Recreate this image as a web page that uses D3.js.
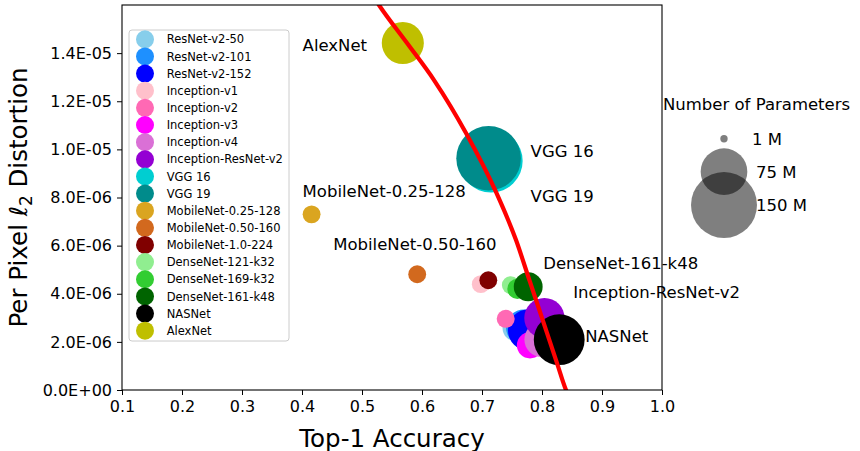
<!DOCTYPE html>
<html>
<head>
<meta charset="utf-8">
<script src="https://cdn.jsdelivr.net/npm/d3@7"></script>
<style>
  body { margin: 0; background: #fff; }
  svg { font-family: "DejaVu Sans", sans-serif; }
</style>
</head>
<body>
<svg id="chart" width="860" height="451"></svg>
<script>
// models, in the order they are drawn and listed in the legend
const models = ["ResNet-v2-50", "ResNet-v2-101", "ResNet-v2-152", "Inception-v1", "Inception-v2",
  "Inception-v3", "Inception-v4", "Inception-ResNet-v2", "VGG 16", "VGG 19",
  "MobileNet-0.25-128", "MobileNet-0.50-160", "MobileNet-1.0-224", "DenseNet-121-k32",
  "DenseNet-169-k32", "DenseNet-161-k48", "NASNet", "AlexNet"];
const accuracy = [0.757, 0.770, 0.778, 0.698, 0.7395, 0.780, 0.800, 0.804, 0.715, 0.711,
  0.416, 0.592, 0.7105, 0.748, 0.759, 0.777, 0.8287, 0.568];
const distortion = [2.58e-6, 2.60e-6, 2.49e-6, 4.40e-6, 2.96e-6, 1.86e-6, 2.10e-6, 2.99e-6, 9.52e-6, 9.63e-6,
  7.30e-6, 4.81e-6, 4.56e-6, 4.36e-6, 4.20e-6, 4.29e-6, 2.09e-6, 1.442e-5];
const params = [25.6, 44.5, 60.2, 6.6, 11.2, 23.8, 42.7, 55.8, 138, 143.7,
  0.47, 1.32, 4.2, 8.0, 14.1, 28.7, 88.9, 61];
const colors = ["#87CEEB", "#1E90FF", "#0000FF", "#FFC0CB", "#FF69B4", "#FF00FF", "#DA70D6", "#9400D3",
  "#00CED1", "#008B8B", "#DAA520", "#D2691E", "#800000", "#90EE90", "#32CD32", "#006400", "#000000", "#BFBF00"];

// text labels placed in the plot
const annotText = ["AlexNet", "VGG 16", "VGG 19", "MobileNet-0.25-128", "MobileNet-0.50-160",
  "DenseNet-161-k48", "Inception-ResNet-v2", "NASNet"];
const annotAcc = [0.401, 0.781, 0.781, 0.401, 0.452, 0.802, 0.852, 0.872];
const annotDist = [1.41e-5, 9.69e-6, 7.80e-6, 8.03e-6, 5.82e-6, 5.03e-6, 3.81e-6, 2.01e-6];

// red trade-off curve
const curveAcc = [0.523, 0.5283, 0.575, 0.620, 0.6733, 0.7233, 0.7567, 0.780, 0.7967, 0.825, 0.840, 0.842];
const curveDist = [1.62e-5, 1.60e-5, 1.442e-5, 1.288e-5, 1.068e-5, 8.23e-6, 6.23e-6, 4.49e-6, 3.24e-6, 1.12e-6, 0, -1.2e-7];

// ticks and size legend
const xTicks = [0.1, 0.2, 0.3, 0.4, 0.5, 0.6, 0.7, 0.8, 0.9, 1.0];
const yTicks = [0, 2e-6, 4e-6, 6e-6, 8e-6, 1e-5, 1.2e-5, 1.4e-5];
const sizeValues = [1, 75, 150];
const sizeLabels = ["1 M", "75 M", "150 M"];

const svg = d3.select('#chart');
const margin = { top: 5, right: 198, bottom: 61, left: 122 };
const width = 860, height = 451;
const innerWidth = width - margin.left - margin.right;
const innerHeight = height - margin.top - margin.bottom;

const xScale = d3.scaleLinear().domain([0.1, 1.0]).range([0, innerWidth]);
const yScale = d3.scaleLinear().domain([0, 1.6e-5]).range([innerHeight, 0]);
// marker radius ~ sqrt(params); small nets get a minimum size
const rScale = d3.scaleSqrt().domain([0, 150]).range([0, 33]);
const markerR = p => rScale(Math.max(p, 11));

function sci(v) {
    if (v === 0) return "0.0E+00";
    const e = Math.floor(Math.log10(v) + 1e-9);
    const m = v / Math.pow(10, e);
    return m.toFixed(1) + "E" + (e < 0 ? "-" : "+") + String(Math.abs(e)).padStart(2, "0");
}

svg.append('defs').append('clipPath').attr('id', 'plotclip')
    .append('rect').attr('width', innerWidth).attr('height', innerHeight);

const g = svg.append('g').attr('transform', `translate(${margin.left},${margin.top})`);

// axes
const xAxis = g.append('g')
    .attr('transform', `translate(0,${innerHeight})`)
    .call(d3.axisBottom(xScale).tickValues(xTicks).tickFormat(d3.format('.1f')).tickSize(5).tickPadding(6));
const yAxis = g.append('g')
    .call(d3.axisLeft(yScale).tickValues(yTicks).tickFormat(sci).tickSize(5).tickPadding(5));
[xAxis, yAxis].forEach(a => {
    a.select('.domain').remove();
    a.selectAll('text').style('font-size', '16px').style('fill', '#000').style('font-family', '"DejaVu Sans"');
    a.selectAll('line').style('stroke', '#000');
});

// points
const pts = models.map((m, i) => ({ name: m, acc: accuracy[i], dist: distortion[i], p: params[i], color: colors[i] }));
g.append('g').attr('clip-path', 'url(#plotclip)')
    .selectAll('circle').data(pts).enter().append('circle')
    .attr('cx', d => xScale(d.acc))
    .attr('cy', d => yScale(d.dist))
    .attr('r', d => markerR(d.p))
    .style('fill', d => d.color);

// red curve
const curveData = curveAcc.map((a, i) => ({ acc: a, dist: curveDist[i] }));
const line = d3.line().x(d => xScale(d.acc)).y(d => yScale(d.dist)).curve(d3.curveMonotoneX);
g.append('path').datum(curveData)
    .attr('clip-path', 'url(#plotclip)')
    .attr('d', line)
    .style('fill', 'none').style('stroke', '#ff0000').style('stroke-width', 4.2);

// annotations
annotText.forEach((t, i) => {
    g.append('text')
        .attr('x', xScale(annotAcc[i]))
        .attr('y', yScale(annotDist[i]))
        .style('font-size', '16.5px')
        .text(t);
});

// frame
g.append('rect').attr('width', innerWidth).attr('height', innerHeight)
    .style('fill', 'none').style('stroke', '#000').style('stroke-width', 1.1);

// legend
const leg = g.append('g').attr('transform', 'translate(7,25)');
const rowH = 17.14;
leg.append('rect')
    .attr('width', 160).attr('height', rowH * models.length + 2.5)
    .attr('rx', 3)
    .style('fill', 'white').style('fill-opacity', 0.8)
    .style('stroke', '#cccccc').style('stroke-width', 1);
models.forEach((m, i) => {
    const y = 9.3 + i * rowH;
    leg.append('circle').attr('cx', 16).attr('cy', y).attr('r', 9).style('fill', colors[i]);
    leg.append('text').attr('x', 37.7).attr('y', y).attr('dy', '0.36em')
        .style('font-size', '11.5px').text(m);
});

// axis labels
g.append('text')
    .attr('x', innerWidth / 2).attr('y', 442)
    .style('text-anchor', 'middle').style('font-size', '24.5px')
    .text('Top-1 Accuracy');
const yl = svg.append('text')
    .attr('transform', `translate(27,${margin.top + innerHeight / 2}) rotate(-90)`)
    .style('text-anchor', 'middle').style('font-size', '24.5px');
yl.append('tspan').text('Per Pixel ');
yl.append('tspan').style('font-style', 'italic').text('ℓ');
yl.append('tspan').attr('dy', 5).style('font-size', '17px').text('2');
yl.append('tspan').attr('dy', -5).text(' Distortion');

// size legend
const sl = svg.append('g');
sl.append('text').attr('x', 663).attr('y', 110).style('font-size', '16.5px').text('Number of Parameters');
const slY = [138.7, 171.7, 205];
const slTx = [752, 756, 756];
sizeValues.forEach((v, i) => {
    sl.append('circle').attr('cx', 724).attr('cy', slY[i]).attr('r', rScale(v) + (v < 5 ? 1 : 0))
        .style('fill', '#000').style('fill-opacity', 0.5);
    sl.append('text').attr('x', slTx[i]).attr('y', slY[i]).attr('dy', '0.36em')
        .style('font-size', '16.5px').text(sizeLabels[i]);
});
</script>
</body>
</html>
